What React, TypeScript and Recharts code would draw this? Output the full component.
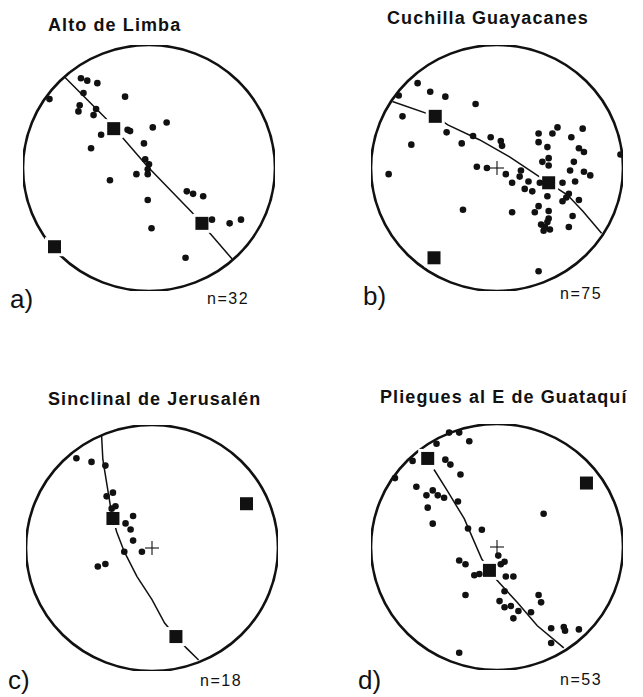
import React from 'react';
import { ScatterChart, Scatter, XAxis, YAxis } from 'recharts';

// ---------- text ----------
const titles = ['Alto de Limba', 'Cuchilla Guayacanes', 'Sinclinal de Jerusalén', 'Pliegues al E de Guataquí'];
const panelLetters = ['a)', 'b)', 'c)', 'd)'];
const counts = ['n=32', 'n=75', 'n=18', 'n=53'];

// ---------- data (unit stereonet coordinates) ----------
const polesA: [number, number][] = [
  [-0.79, 0.56], [-0.54, 0.73], [-0.49, 0.71], [-0.41, 0.69], [-0.52, 0.61], [-0.55, 0.51], [-0.56, 0.46],
  [-0.42, 0.48], [-0.44, 0.43], [-0.19, 0.58], [-0.38, 0.27], [-0.17, 0.31], [-0.15, 0.3], [0.03, 0.33],
  [0.14, 0.37], [-0.46, 0.16], [-0.04, 0.2], [-0.03, 0.07], [0.0, 0.03], [-0.01, -0.01], [-0.1, -0.05],
  [-0.01, -0.05], [-0.31, -0.1], [0.3, -0.19], [0.35, -0.21], [0.43, -0.23], [-0.01, -0.26], [0.02, -0.49],
  [0.5, -0.42], [0.64, -0.45], [0.73, -0.42], [0.29, -0.73],
];
const axesA: [number, number][] = [[-0.28, 0.32], [0.42, -0.45], [-0.75, -0.64]];
const girdleA: [number, number][] = [[-0.67, 0.74], [-0.34, 0.4], [-0.01, 0.01], [0.34, -0.36], [0.66, -0.74]];

const polesB: [number, number][] = [
  [-0.63, 0.69], [-0.53, 0.62], [-0.41, 0.58], [-0.78, 0.59], [-0.75, 0.42], [-0.17, 0.52], [-0.4, 0.29],
  [-0.68, 0.19], [-0.28, 0.2], [-0.19, 0.26], [-0.05, 0.25], [0.03, 0.22], [0.04, 0.18], [-0.86, -0.05],
  [-0.16, 0.01], [-0.08, 0.0], [0.07, -0.05], [0.12, -0.12], [0.19, -0.02], [0.18, -0.07], [0.25, -0.11],
  [0.22, -0.17], [0.28, -0.19], [-0.27, -0.34], [0.12, -0.36], [0.33, 0.28], [0.33, 0.21], [0.4, 0.17],
  [0.44, 0.28], [0.48, 0.33], [0.59, 0.25], [0.68, 0.32], [0.65, 0.16], [0.69, 0.13], [0.41, 0.08],
  [0.36, 0.05], [0.41, 0.02], [0.61, 0.05], [0.58, -0.02], [0.69, -0.03], [0.74, -0.06], [0.62, -0.11],
  [0.52, -0.12], [0.52, -0.27], [0.57, -0.21], [0.65, -0.26], [0.4, -0.23], [0.33, -0.31], [0.3, -0.36],
  [0.41, -0.35], [0.41, -0.41], [0.4, -0.44], [0.35, -0.46], [0.37, -0.51], [0.42, -0.5], [0.6, -0.39],
  [0.57, -0.48], [0.33, -0.84], [0.98, 0.11], [0.34, -0.12], [0.55, -0.24], [0.38, -0.48],
];
const axesB: [number, number][] = [[-0.49, 0.42], [0.41, -0.12], [-0.5, -0.73]];
const girdleB: [number, number][] = [
  [-0.83, 0.54], [-0.49, 0.42], [-0.39, 0.35], [-0.14, 0.23], [0.1, 0.09], [0.32, -0.06], [0.41, -0.12],
  [0.56, -0.22], [0.68, -0.35], [0.83, -0.53],
];

const polesC: [number, number][] = [
  [-0.6, 0.73], [-0.48, 0.7], [-0.37, 0.67], [-0.31, 0.45], [-0.36, 0.42], [-0.29, 0.34], [-0.32, 0.32],
  [-0.15, 0.26], [-0.21, 0.2], [-0.17, 0.15], [-0.15, 0.06], [-0.08, -0.03], [-0.22, -0.03], [-0.43, -0.15],
  [-0.37, -0.13],
];
const axesC: [number, number][] = [[-0.31, 0.24], [0.75, 0.36], [0.19, -0.72]];
const girdleC: [number, number][] = [
  [-0.4, 0.91], [-0.39, 0.72], [-0.36, 0.53], [-0.33, 0.34], [-0.31, 0.24], [-0.28, 0.13], [-0.22, -0.03],
  [-0.12, -0.23], [0.0, -0.42], [0.1, -0.61], [0.19, -0.72], [0.27, -0.81], [0.37, -0.91],
];

const polesD: [number, number][] = [
  [-0.81, 0.56], [-0.64, 0.49], [-0.48, 0.84], [-0.38, 0.93], [-0.3, 0.93], [-0.22, 0.86], [-0.41, 0.71],
  [-0.37, 0.67], [-0.29, 0.59], [-0.56, 0.42], [-0.51, 0.46], [-0.47, 0.42], [-0.42, 0.4], [-0.55, 0.32],
  [-0.51, 0.19], [-0.31, 0.37], [-0.23, 0.15], [-0.12, 0.14], [0.37, 0.27], [-0.3, -0.11], [-0.25, -0.14],
  [-0.18, -0.23], [0.01, -0.07], [0.03, -0.14], [0.07, -0.24], [0.13, -0.24], [0.06, -0.36], [0.02, -0.44],
  [0.06, -0.49], [0.11, -0.48], [0.17, -0.52], [0.13, -0.58], [0.27, -0.53], [0.33, -0.39], [0.35, -0.45],
  [-0.25, -0.39], [0.43, -0.66], [0.53, -0.65], [0.54, -0.68], [0.65, -0.67], [0.43, -0.78], [-0.3, -0.86],
  [-0.14, -0.22], [0.06, -0.12], [-0.67, 0.7],
];
const axesD: [number, number][] = [[-0.55, 0.72], [0.71, 0.52], [-0.06, -0.19]];
const girdleD: [number, number][] = [
  [-0.5, 0.63], [-0.39, 0.45], [-0.26, 0.23], [-0.12, -0.1], [0.0, -0.27], [0.16, -0.45], [0.32, -0.64],
  [0.53, -0.82],
];

const toRows = (arr: [number, number][]) => arr.map(([x, y]) => ({ x, y }));

// ---------- layout / style ----------
const RX = 126;
const RY = 123;
const M = 20;
const CW = RX * 2 + M * 2;
const CH = RY * 2 + M * 2;
const INK = '#111';

type Panel = {
  cx: number; cy: number; tick: number; cross: boolean;
  poles: [number, number][]; axes: [number, number][]; girdle: [number, number][];
  title: [number, number]; letter: [number, number]; count: [number, number];
};

const panels: Panel[] = [
  { cx: 148.5, cy: 167.5, tick: 6, cross: false, poles: polesA, axes: axesA, girdle: girdleA,
    title: [48, 30.5], letter: [10, 308], count: [207, 304] },
  { cx: 497, cy: 167.5, tick: 10, cross: true, poles: polesB, axes: axesB, girdle: girdleB,
    title: [387, 24], letter: [363, 305], count: [560, 299] },
  { cx: 152, cy: 548, tick: 11, cross: true, poles: polesC, axes: axesC, girdle: girdleC,
    title: [48, 405], letter: [8, 689], count: [200, 686] },
  { cx: 497, cy: 547, tick: 11, cross: true, poles: polesD, axes: axesD, girdle: girdleD,
    title: [380, 403], letter: [358, 689], count: [560, 685] },
];

const makeFrame = (tick: number, cross: boolean) => (p: any) => {
  const { cx, cy } = p;
  return (
    <g>
      <ellipse cx={cx} cy={cy} rx={RX} ry={RY} fill="none" stroke={INK} strokeWidth={2.6} />
      <line x1={cx} y1={cy - RY} x2={cx} y2={cy - RY - tick} stroke={INK} strokeWidth={1.3} />
      <line x1={cx} y1={cy + RY} x2={cx} y2={cy + RY + tick} stroke={INK} strokeWidth={1.3} />
      <line x1={cx - RX} y1={cy} x2={cx - RX - tick} y2={cy} stroke={INK} strokeWidth={1.3} />
      <line x1={cx + RX} y1={cy} x2={cx + RX + tick} y2={cy} stroke={INK} strokeWidth={1.3} />
      {cross && (
        <g stroke={INK} strokeWidth={1.1}>
          <line x1={cx - 7} y1={cy} x2={cx + 7} y2={cy} />
          <line x1={cx} y1={cy - 7} x2={cx} y2={cy + 7} />
        </g>
      )}
    </g>
  );
};

const DotShape = (p: any) => <circle cx={p.cx} cy={p.cy} r={3.3} fill={INK} />;
const SquareShape = (p: any) => (
  <rect x={p.cx - 6.5} y={p.cy - 6.5} width={13} height={13} fill={INK} stroke="#fff" strokeWidth={6}
    style={{ paintOrder: 'stroke' }} />
);
const NoShape = () => <g />;

function Stereonet({ panel }: { panel: Panel }) {
  return (
    <div style={{ position: 'absolute', left: panel.cx - RX - M, top: panel.cy - RY - M, width: CW, height: CH }}>
      <ScatterChart width={CW} height={CH} margin={{ top: M, right: M, bottom: M, left: M }}>
        <XAxis dataKey="x" type="number" domain={[-1, 1]} hide allowDataOverflow />
        <YAxis dataKey="y" type="number" domain={[-1, 1]} hide allowDataOverflow />
        <Scatter data={[{ x: 0, y: 0 }]} shape={makeFrame(panel.tick, panel.cross)} isAnimationActive={false} />
        <Scatter data={toRows(panel.girdle)} line={{ stroke: INK, strokeWidth: 1.5 }} lineType="joint"
          shape={NoShape} isAnimationActive={false} />
        <Scatter data={toRows(panel.axes)} shape={SquareShape} isAnimationActive={false} />
        <Scatter data={toRows(panel.poles)} shape={DotShape} isAnimationActive={false} />
      </ScatterChart>
    </div>
  );
}

export default function App() {
  const font = '"Liberation Sans", Arial, Helvetica, sans-serif';
  return (
    <div style={{ position: 'absolute', left: 0, top: 0, width: 643, height: 697, background: '#fff', overflow: 'hidden' }}>
      {panels.map((p, i) => <Stereonet key={i} panel={p} />)}
      <svg width={643} height={697} style={{ position: 'absolute', left: 0, top: 0, pointerEvents: 'none' }}>
        {panels.map((p, i) => (
          <g key={i} fill={INK} fontFamily={font}>
            <text x={p.title[0]} y={p.title[1]} fontSize={18} fontWeight="bold" letterSpacing={1.1}>{titles[i]}</text>
            <text x={p.letter[0]} y={p.letter[1]} fontSize={26}>{panelLetters[i]}</text>
            <text x={p.count[0]} y={p.count[1]} fontSize={16} letterSpacing={1.5}>{counts[i]}</text>
          </g>
        ))}
      </svg>
    </div>
  );
}
